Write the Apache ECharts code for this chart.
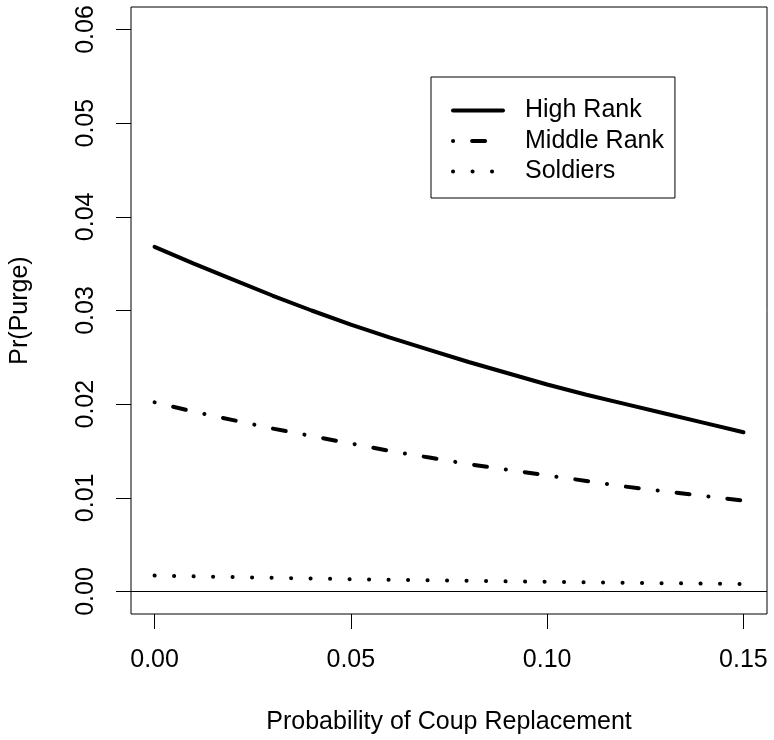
<!DOCTYPE html>
<html>
<head>
<meta charset="utf-8">
<script src="https://cdn.jsdelivr.net/npm/echarts@6/dist/echarts.min.js"></script>
<style>html,body{margin:0;padding:0;background:#fff}#c{width:774px;height:740px}</style>
</head>
<body>
<div id="c"></div>
<script>
var xValues = [0, 0.01, 0.02, 0.03, 0.04, 0.05, 0.06, 0.07, 0.08, 0.09, 0.10, 0.11, 0.12, 0.13, 0.14, 0.15];
var highRank = [0.0368, 0.0350, 0.0333, 0.0316, 0.0300, 0.0285, 0.0271, 0.0258, 0.0245, 0.0233, 0.0221, 0.0210, 0.0200, 0.0190, 0.0180, 0.0170];
var middleRank = [0.0202, 0.0192, 0.0183, 0.0174, 0.0166, 0.0158, 0.0150, 0.0143, 0.0136, 0.0130, 0.0124, 0.0118, 0.0112, 0.0107, 0.0102, 0.0097];
var soldiers = [0.00170, 0.00162, 0.00154, 0.00146, 0.00139, 0.00132, 0.00126, 0.00120, 0.00114, 0.00108, 0.00103, 0.00098, 0.00093, 0.00089, 0.00084, 0.00080];
var seriesNames = ['High Rank', 'Middle Rank', 'Soldiers'];
var xTicks = [0, 0.05, 0.10, 0.15];
var yTicks = [0, 0.01, 0.02, 0.03, 0.04, 0.05, 0.06];

function pairs(ys) { return xValues.map(function (x, i) { return [x, ys[i]]; }); }
var font = 'Liberation Sans, Arial, Helvetica, sans-serif';

var chart = echarts.init(document.getElementById('c'), null, {renderer: 'canvas'});
chart.setOption({
  animation: false,
  backgroundColor: '#fff',
  grid: {left: 131, top: 7, right: 7, bottom: 125, show: true, borderColor: '#000', borderWidth: 1, backgroundColor: 'transparent'},
  xAxis: {
    type: 'value', min: -0.006, max: 0.156,
    splitLine: {show: false}, axisLine: {show: false, onZero: false},
    axisTick: {show: true, length: 15, inside: false, customValues: xTicks, lineStyle: {color: '#000', width: 1}},
    axisLabel: {customValues: xTicks, margin: 34, color: '#000', fontSize: 25, fontFamily: font, formatter: function (v) { return v.toFixed(2); }},
    name: 'Probability of Coup Replacement', nameLocation: 'middle', nameGap: 96,
    nameTextStyle: {color: '#000', fontSize: 25, fontFamily: font}
  },
  yAxis: {
    type: 'value', min: -0.0024, max: 0.0624,
    splitLine: {show: false}, axisLine: {show: false, onZero: false},
    axisTick: {show: true, length: 15, inside: false, customValues: yTicks, lineStyle: {color: '#000', width: 1}},
    axisLabel: {customValues: yTicks, rotate: 90, margin: 32, color: '#000', fontSize: 25, fontFamily: font, formatter: function (v) { return v.toFixed(2); }},
    name: 'Pr(Purge)', nameLocation: 'middle', nameGap: 98, nameRotate: 90,
    nameTextStyle: {color: '#000', fontSize: 25, fontFamily: font}
  },
  legend: {
    left: 431, top: 77, orient: 'vertical',
    padding: [21, 11, 14, 20], itemGap: 5.5, itemWidth: 50, itemHeight: 20,
    borderColor: '#000', borderWidth: 1, borderRadius: 0,
    data: seriesNames,
    itemStyle: {opacity: 0, color: 'transparent', borderWidth: 0},
    lineStyle: {color: '#000', width: 4, cap: 'round', opacity: 1},
    formatter: function (name) { return '{t|' + name + '}'; },
    textStyle: {color: '#000', fontSize: 25, lineHeight: 25, fontFamily: font,
      rich: {t: {color: '#000', fontSize: 25, lineHeight: 25, fontFamily: font, padding: [0, 0, 0, 17]}}}
  },
  series: [
    {name: seriesNames[0], type: 'line', data: pairs(highRank), showSymbol: false, symbol: 'none', smooth: false,
     lineStyle: {color: '#000', width: 4, type: 'solid', cap: 'round'}, itemStyle: {color: '#000'},
     markLine: {silent: true, symbol: 'none', label: {show: false}, lineStyle: {color: '#000', width: 1, type: 'solid'}, data: [{yAxis: 0}]}},
    {name: seriesNames[1], type: 'line', data: pairs(middleRank), showSymbol: false, symbol: 'none',
     lineStyle: {color: '#000', width: 4, type: [0.1, 19, 13, 19], cap: 'round'}, itemStyle: {color: '#000'}},
    {name: seriesNames[2], type: 'line', data: pairs(soldiers), showSymbol: false, symbol: 'none',
     lineStyle: {color: '#000', width: 4, type: [0.1, 19.4], cap: 'round'}, itemStyle: {color: '#000'}}
  ]
});
</script>
</body>
</html>
